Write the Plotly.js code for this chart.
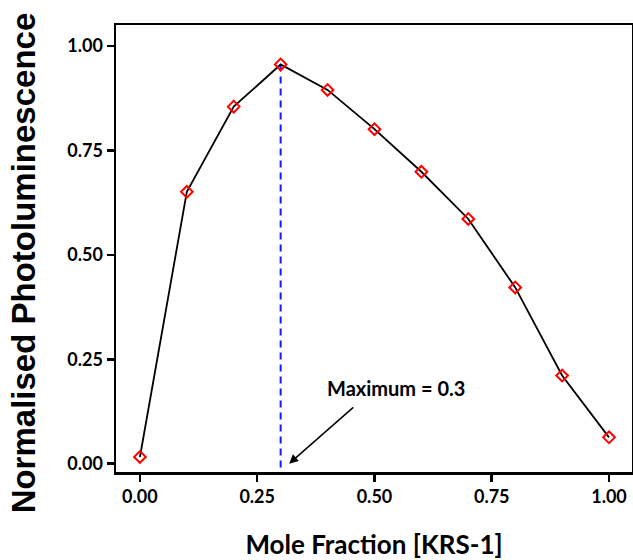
<!DOCTYPE html>
<html>
<head>
<meta charset="utf-8">
<script src="https://cdn.plot.ly/plotly-3.0.1.min.js"></script>
<style>html,body{margin:0;padding:0;background:#fff;}#chart{width:633px;height:560px;}</style>
</head>
<body>
<div id="chart"></div>
<script>
const moleFraction = [0.0, 0.1, 0.2, 0.3, 0.4, 0.5, 0.6, 0.7, 0.8, 0.9, 1.0];
const normPL = [0.016, 0.651, 0.855, 0.956, 0.895, 0.801, 0.699, 0.586, 0.422, 0.211, 0.063];
const maxX = 0.3;
const tickVals = [0, 0.25, 0.5, 0.75, 1.0];
const tickText = ['0.00', '0.25', '0.50', '0.75', '1.00'];
const annotationText = 'Maximum = 0.3';
const yTitle = 'Normalised Photoluminescence';
const xTitle = 'Mole Fraction [KRS-1]';

const peakY = normPL[moleFraction.indexOf(maxX)];

const traces = [
  {
    x: [maxX, maxX], y: [peakY, -0.02], mode: 'lines',
    line: {color: '#1a1aff', width: 2, dash: '7px,5px'},
    hoverinfo: 'skip', showlegend: false
  },
  {
    x: moleFraction, y: normPL, mode: 'lines+markers',
    line: {color: '#000', width: 1.8},
    marker: {symbol: 'diamond-open', size: 9, color: '#ff0000', line: {width: 2, color: '#ff0000'}},
    showlegend: false
  }
];

const tickFont = {family: 'Lato, "Open Sans", sans-serif', size: 18, color: '#000', weight: 'bold'};

const layout = {
  width: 633, height: 560,
  margin: {l: 116, r: 1, t: 25, b: 88},
  paper_bgcolor: '#fff', plot_bgcolor: '#fff',
  xaxis: {
    range: [-0.051, 1.049], tickvals: tickVals, ticktext: tickText,
    showgrid: false, zeroline: false, showline: true, mirror: true,
    linecolor: '#000', linewidth: 2.5, ticks: 'outside', ticklen: 7, tickwidth: 2.5, tickcolor: '#000',
    tickfont: tickFont,
    title: {text: xTitle, font: {family: 'Lato, "Open Sans", sans-serif', size: 26, color: '#000', weight: 'bold'}, standoff: 31}
  },
  yaxis: {
    range: [-0.02, 1.0505], tickvals: tickVals, ticktext: tickText,
    showgrid: false, zeroline: false, showline: true, mirror: true,
    linecolor: '#000', linewidth: 2.5, ticks: 'outside', ticklen: 7, tickwidth: 2.5, tickcolor: '#000',
    tickfont: tickFont
  },
  annotations: [
    {
      x: -0.180, y: 0.467, xref: 'paper', yref: 'paper',
      xanchor: 'center', yanchor: 'middle', textangle: -90,
      text: yTitle, showarrow: false,
      font: {family: '"Liberation Sans", Arial, sans-serif', size: 33, color: '#000', weight: 'bold'}
    },
    {
      x: 0.318, y: 0.0, xref: 'x', yref: 'y',
      ax: 0.458, ay: 0.138, axref: 'x', ayref: 'y',
      text: '', showarrow: true, arrowhead: 2, arrowsize: 1.2, arrowwidth: 1.5, arrowcolor: '#000'
    },
    {
      x: 0.546, y: 0.181, xref: 'x', yref: 'y',
      text: annotationText, showarrow: false,
      font: {family: 'Lato, "Open Sans", sans-serif', size: 20, color: '#000', weight: 'bold'}
    }
  ]
};

Plotly.newPlot('chart', traces, layout, {displayModeBar: false, staticPlot: true});
</script>
</body>
</html>
